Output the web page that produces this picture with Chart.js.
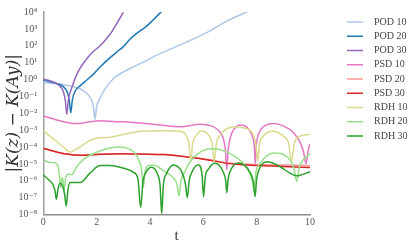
<!DOCTYPE html>
<html>
<head>
<meta charset="utf-8">
<script src="https://cdn.jsdelivr.net/npm/chart.js@4/dist/chart.umd.min.js"></script>
<style>
  html, body { margin: 0; padding: 0; background: #fff; }
  canvas { display: block; }
</style>
</head>
<body>
<canvas id="errChart" width="415" height="247"></canvas>
<script>
// t values and log10 |K(z) - K(Ay)|
const pod10T = [0, 0.5, 1.0, 1.38, 1.65, 1.8, 1.88, 1.94, 2.0, 2.1, 2.3, 2.63, 3.25, 3.63, 4.5, 5.2, 6.13, 6.88, 7.69];
const pod10Log = [-0.19, -0.25, -0.38, -0.55, -0.85, -1.2, -1.6, -2.35, -1.6, -1.2, -0.6, 0.06, 0.65, 0.94, 1.62, 2.1, 2.78, 3.46, 4.04];

const pod20T = [0, 0.4, 0.75, 0.9, 0.97, 1.03, 1.09, 1.19, 1.4, 1.63, 1.9, 2.13, 2.4, 2.75, 3.0, 3.25, 3.63, 3.81, 4.1, 4.44];
const pod20Log = [-0.05, -0.2, -0.42, -0.75, -1.2, -1.97, -1.2, -0.7, -0.35, -0.03, 0.35, 0.74, 1.15, 1.62, 1.95, 2.39, 2.88, 3.07, 3.5, 4.04];

const pod30T = [0, 0.3, 0.6, 0.76, 0.83, 0.88, 0.94, 1.06, 1.3, 1.63, 1.9, 2.13, 2.5, 2.75, 3.0];
const pod30Log = [0.02, -0.1, -0.35, -0.75, -1.3, -2.06, -1.2, -0.52, 0.45, 1.23, 1.7, 2.0, 2.68, 3.3, 3.98];

const psd10T = [0, 0.5, 1.0, 1.25, 1.7, 2.13, 2.8, 3.63, 4.4, 5.13, 5.88, 6.3, 6.56, 6.75, 6.83, 6.88, 6.93, 7.02, 7.15, 7.38, 7.65, 7.82, 7.91, 7.95, 7.99, 8.08, 8.25, 8.63, 9.0, 9.38, 9.62, 9.76, 9.85, 9.92, 10];
const psd10Log = [-2.16, -2.4, -2.58, -2.61, -2.52, -2.45, -2.5, -2.58, -2.7, -2.8, -2.65, -2.75, -3.0, -3.5, -4.2, -5.36, -4.2, -3.4, -2.95, -2.7, -2.85, -3.3, -3.9, -5.0, -3.9, -3.2, -2.8, -2.6, -2.75, -3.15, -3.7, -4.3, -5.0, -4.3, -3.8];

const psd20T = [0, 0.4, 0.88, 1.38, 2.13, 3.0, 3.63, 4.5, 5.38, 6.25, 6.88, 7.5, 8.0, 9.0, 10];
const psd20Log = [-4.07, -4.25, -4.42, -4.49, -4.43, -4.4, -4.42, -4.45, -4.58, -4.76, -4.94, -5.0, -5.04, -5.07, -5.1];

const psd30T = [0, 0.4, 0.88, 1.38, 2.13, 3.0, 3.63, 4.5, 5.38, 6.25, 6.88, 7.5, 8.0, 9.0, 10];
const psd30Log = [-4.07, -4.25, -4.42, -4.49, -4.43, -4.4, -4.42, -4.45, -4.59, -4.78, -4.97, -5.05, -5.1, -5.15, -5.22];

const rdh10T = [0, 0.2, 0.44, 0.75, 1.0, 1.2, 1.38, 1.75, 2.1, 2.5, 3.0, 3.38, 3.63, 4.5, 5.13, 5.35, 5.46, 5.53, 5.6, 5.72, 5.94, 6.2, 6.33, 6.41, 6.49, 6.62, 6.85, 7.13, 7.63, 7.88, 7.97, 8.04, 8.11, 8.25, 8.63, 8.95, 9.2, 9.31, 9.41, 9.55, 10];
const rdh10Log = [-3.03, -3.3, -3.6, -4.0, -4.3, -4.15, -4.0, -3.6, -3.45, -3.42, -3.25, -3.13, -3.07, -3.03, -3.07, -3.3, -3.8, -4.88, -3.8, -3.35, -3.05, -3.3, -3.8, -4.88, -3.8, -3.3, -2.95, -2.82, -2.92, -3.3, -3.8, -4.8, -3.8, -3.35, -3.07, -3.3, -3.8, -4.88, -3.8, -3.42, -3.25];

const rdh20T = [0, 0.2, 0.45, 0.56, 0.62, 0.66, 0.7, 0.74, 0.78, 0.84, 0.95, 1.06, 1.25, 1.5, 1.75, 2.1, 2.38, 2.75, 3.1, 3.4, 3.56, 3.68, 3.75, 3.82, 3.95, 4.13, 4.5, 4.88, 5.01, 5.09, 5.16, 5.25, 5.5, 5.88, 6.38, 7.0, 7.5, 7.72, 7.84, 7.9, 7.97, 8.13, 8.63, 9.25, 9.4, 9.5, 9.6, 9.75, 10];
const rdh20Log = [-4.75, -4.9, -4.95, -5.2, -5.9, -6.4, -5.8, -6.0, -6.6, -5.8, -5.6, -5.65, -5.17, -4.75, -4.49, -4.25, -4.1, -4.0, -4.05, -4.3, -4.7, -5.3, -6.4, -5.4, -5.1, -5.07, -5.4, -5.84, -6.2, -6.9, -6.0, -5.65, -4.88, -4.3, -4.1, -4.39, -4.97, -5.5, -6.0, -6.6, -5.5, -4.97, -4.35, -4.78, -5.3, -6.04, -5.2, -4.75, -4.39];

const rdh30T = [0, 0.2, 0.35, 0.44, 0.49, 0.55, 0.63, 0.72, 0.8, 0.86, 0.92, 1.0, 1.38, 1.75, 2.13, 2.5, 2.88, 3.38, 3.55, 3.65, 3.74, 3.85, 4.06, 4.28, 4.38, 4.44, 4.5, 4.63, 4.88, 5.2, 5.33, 5.4, 5.47, 5.6, 5.81, 5.95, 6.01, 6.07, 6.2, 6.44, 6.75, 6.84, 6.88, 6.93, 7.05, 7.31, 7.75, 7.88, 7.94, 8.0, 8.13, 8.4, 8.88, 9.25, 9.5, 10];
const rdh30Log = [-5.65, -5.94, -6.2, -6.6, -7.1, -6.5, -6.15, -6.3, -6.8, -7.5, -6.6, -6.1, -6.1, -5.55, -5.1, -5.1, -5.2, -5.5, -5.9, -7.59, -6.0, -5.5, -5.2, -5.6, -6.3, -7.95, -6.3, -5.55, -5.07, -5.5, -6.2, -7.0, -6.0, -5.4, -5.05, -5.6, -6.94, -5.8, -5.3, -4.97, -5.5, -6.0, -6.71, -5.9, -5.3, -4.95, -5.5, -6.1, -6.94, -5.9, -5.2, -4.88, -5.17, -5.55, -5.71, -5.46];

const seriesLabels = ['POD 10', 'POD 20', 'POD 30', 'PSD 10', 'PSD 20', 'PSD 30', 'RDH 10', 'RDH 20', 'RDH 30'];
const seriesColors = ['#aec7e8', '#1f77b4', '#9467bd', '#e377c2', '#ff9896', '#d62728', '#dbdb8d', '#98df8a', '#2ca02c'];

const xTicks = [0, 2, 4, 6, 8, 10];
const yTickValues = [1e-8, 1e-7, 1e-6, 1e-5, 1e-4, 1e-3, 1e-2, 1e-1, 1e0, 1e1, 1e2, 1e3, 1e4];
const yTickLabels = ['10⁻⁸', '10⁻⁷', '10⁻⁶', '10⁻⁵', '10⁻⁴', '10⁻³', '10⁻²', '10⁻¹', '10⁰', '10¹', '10²', '10³', '10⁴'];

const seriesT = [pod10T, pod20T, pod30T, psd10T, psd20T, psd30T, rdh10T, rdh20T, rdh30T];
const seriesLog = [pod10Log, pod20Log, pod30Log, psd10Log, psd20Log, psd30Log, rdh10Log, rdh20Log, rdh30Log];

function toPoints(ts, logs) {
    return ts.map((t, i) => ({ x: t, y: Math.pow(10, logs[i]) }));
}

const serif = "'Liberation Serif', 'DejaVu Serif', serif";

// legend drawn to the right of the plot, like the matplotlib one
const sideLegend = {
    id: 'sideLegend',
    afterDraw(chart) {
        const ctx = chart.ctx;
        const x0 = chart.chartArea.right + 37;
        ctx.save();
        ctx.font = '10px ' + serif;
        ctx.textBaseline = 'middle';
        chart.data.datasets.forEach((ds, i) => {
            const y = 22 + i * 14.25;
            ctx.strokeStyle = ds.borderColor;
            ctx.lineWidth = 1.5;
            ctx.beginPath();
            ctx.moveTo(x0, y);
            ctx.lineTo(x0 + 16, y);
            ctx.stroke();
            ctx.fillStyle = '#444';
            ctx.fillText(ds.label, x0 + 27, y);
        });
        ctx.restore();
    }
};

const ctx = document.getElementById('errChart').getContext('2d');

const errChart = new Chart(ctx, {
    type: 'line',
    data: {
        datasets: seriesLabels.map((label, i) => ({
            label: label,
            data: toPoints(seriesT[i], seriesLog[i]),
            borderColor: seriesColors[i],
            backgroundColor: seriesColors[i],
            borderWidth: 1.5,
            pointRadius: 0,
            fill: false,
            cubicInterpolationMode: 'monotone',
            order: seriesLabels.length - i
        }))
    },
    options: {
        responsive: false,
        animation: false,
        parsing: true,
        layout: { padding: { top: 9, right: 105, left: 0, bottom: 0 } },
        plugins: {
            legend: { display: false },
            tooltip: { enabled: false }
        },
        scales: {
            x: {
                type: 'linear',
                min: 0,
                max: 10,
                afterBuildTicks: (scale) => { scale.ticks = xTicks.map(v => ({ value: v })); },
                afterFit: (scale) => { scale.height = 32.5; },
                grid: { display: false, drawTicks: false },
                border: { display: true, color: '#8c8c8c', width: 1.5 },
                ticks: {
                    padding: 2,
                    color: '#555',
                    font: { family: serif, size: 10 },
                    maxRotation: 0
                },
                title: {
                    display: true,
                    text: 't',
                    color: '#333',
                    font: { family: serif, size: 15 },
                    padding: { top: 0, bottom: 2 }
                }
            },
            y: {
                type: 'logarithmic',
                min: 1e-8,
                max: 1e4,
                afterBuildTicks: (scale) => { scale.ticks = yTickValues.map(v => ({ value: v })); },
                afterFit: (scale) => { scale.width = 43.3; },
                grid: { display: false, drawTicks: false },
                border: { display: true, color: '#a0a0a0', width: 1.5 },
                ticks: {
                    padding: 6,
                    color: '#555',
                    font: { family: serif, size: 10 },
                    callback: (value, index) => yTickLabels[index]
                },
                title: {
                    display: true,
                    text: '|K(z) − K(Ay)|',
                    color: '#333',
                    font: { family: "'DejaVu Serif', serif", size: 17, style: 'italic' },
                    padding: { top: 3, bottom: 0 }
                }
            }
        }
    },
    plugins: [sideLegend]
});
</script>
</body>
</html>
